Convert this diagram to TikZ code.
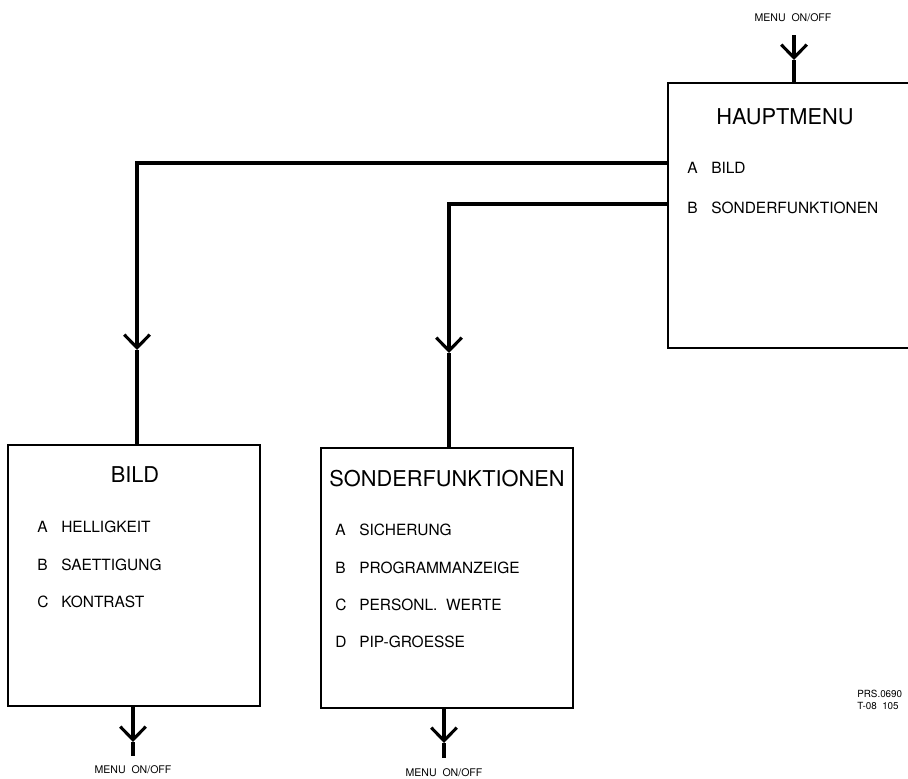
\documentclass[tikz,border=0pt]{standalone}
\usepackage{fontspec}
\setmainfont{TeX Gyre Heros}
\usetikzlibrary{arrows.meta}
\newcommand{\opt}[2]{\makebox[0.6cm][l]{#1}#2}

\begin{document}
\begin{tikzpicture}[x=0.025cm,y=-0.025cm,
  box/.style={draw,line width=1.7pt,inner sep=0pt,minimum width=6.3cm,
    minimum height=6.5cm},
  conn/.style={line width=2.2pt},
  tip/.style={-{Straight Barb[length=0.33cm,width=0.64cm]}},
  ttl/.style={font=\fontsize{15.5}{18}\selectfont,inner sep=0pt},
  itm/.style={anchor=west,font=\fontsize{11}{13}\selectfont,inner sep=0pt},
  onoff/.style={font=\fontsize{7.5}{9}\selectfont,inner sep=0pt},
]
  \useasboundingbox (0,0) rectangle (908,778);

  % main menu
  \node[box,minimum width=6.55cm,minimum height=6.625cm] (haupt) at (799,215.5) {};
  \node[ttl] (hauptT) at (785,117) {HAUPTMENU};
  \node[itm] (hauptA) at (687,168) {\opt{A}{BILD}};
  \node[itm] (hauptB) at (687,208) {\opt{B}{SONDERFUNKTIONEN}};

  % sub menus
  \node[box,minimum height=6.525cm] (bild) at (134,575.5) {};
  \node[ttl] (bildT) at (135,475) {BILD};
  \node[itm] (bildA) at (37,527) {\opt{A}{HELLIGKEIT}};
  \node[itm] (bildB) at (37,565) {\opt{B}{SAETTIGUNG}};
  \node[itm] (bildC) at (37,602) {\opt{C}{KONTRAST}};

  \node[box] (sonder) at (447,578) {};
  \node[ttl] (sonderT) at (447,479) {SONDERFUNKTIONEN};
  \node[itm] (sonderA) at (335,530) {\opt{A}{SICHERUNG}};
  \node[itm] (sonderB) at (335,568) {\opt{B}{PROGRAMMANZEIGE}};
  \node[itm] (sonderC) at (335,605) {\opt{C}{PERSONL.\ \ WERTE}};
  \node[itm] (sonderD) at (335,642) {\opt{D}{PIP-GROESSE}};

  % menu on/off
  \node[onoff] (offTop) at (793,18) {MENU\ \ ON/OFF};
  \node[onoff] (offBild) at (133,770) {MENU\ \ ON/OFF};
  \node[onoff] (offSonder) at (444,773) {MENU\ \ ON/OFF};

  \coordinate (topIn) at (794,35);
  \coordinate (topTip) at (794,60);
  \draw[conn,tip] (topIn) -- (topTip);
  \draw[conn] (topTip) -- (topTip |- haupt.north);

  % connectors
  \coordinate (outA) at (668,163);
  \coordinate (tipA) at (137,350);
  \draw[conn,tip] (outA) -| (tipA);
  \draw[conn] (tipA) -- (tipA |- bild.north);

  \coordinate (outB) at (668,204);
  \coordinate (tipB) at (449,353);
  \draw[conn,tip] (outB) -| (tipB);
  \draw[conn] (tipB) -- (tipB |- sonder.north);

  \coordinate (bildTip) at (133,742);
  \coordinate (bildEnd) at (133,756);
  \draw[conn,tip] (bildTip |- bild.south) -- (bildTip);
  \draw[conn] (bildTip) -- (bildEnd);

  \coordinate (sonderTip) at (444,743);
  \coordinate (sonderEnd) at (444,758);
  \draw[conn,tip] (sonderTip |- sonder.south) -- (sonderTip);
  \draw[conn] (sonderTip) -- (sonderEnd);

  % drawing number
  \node[anchor=west,font=\fontsize{7}{8}\selectfont,inner sep=0pt,align=left]
    (prs) at (857,700) {PRS.0690\\T-08\ \ 105};
\end{tikzpicture}
\end{document}
